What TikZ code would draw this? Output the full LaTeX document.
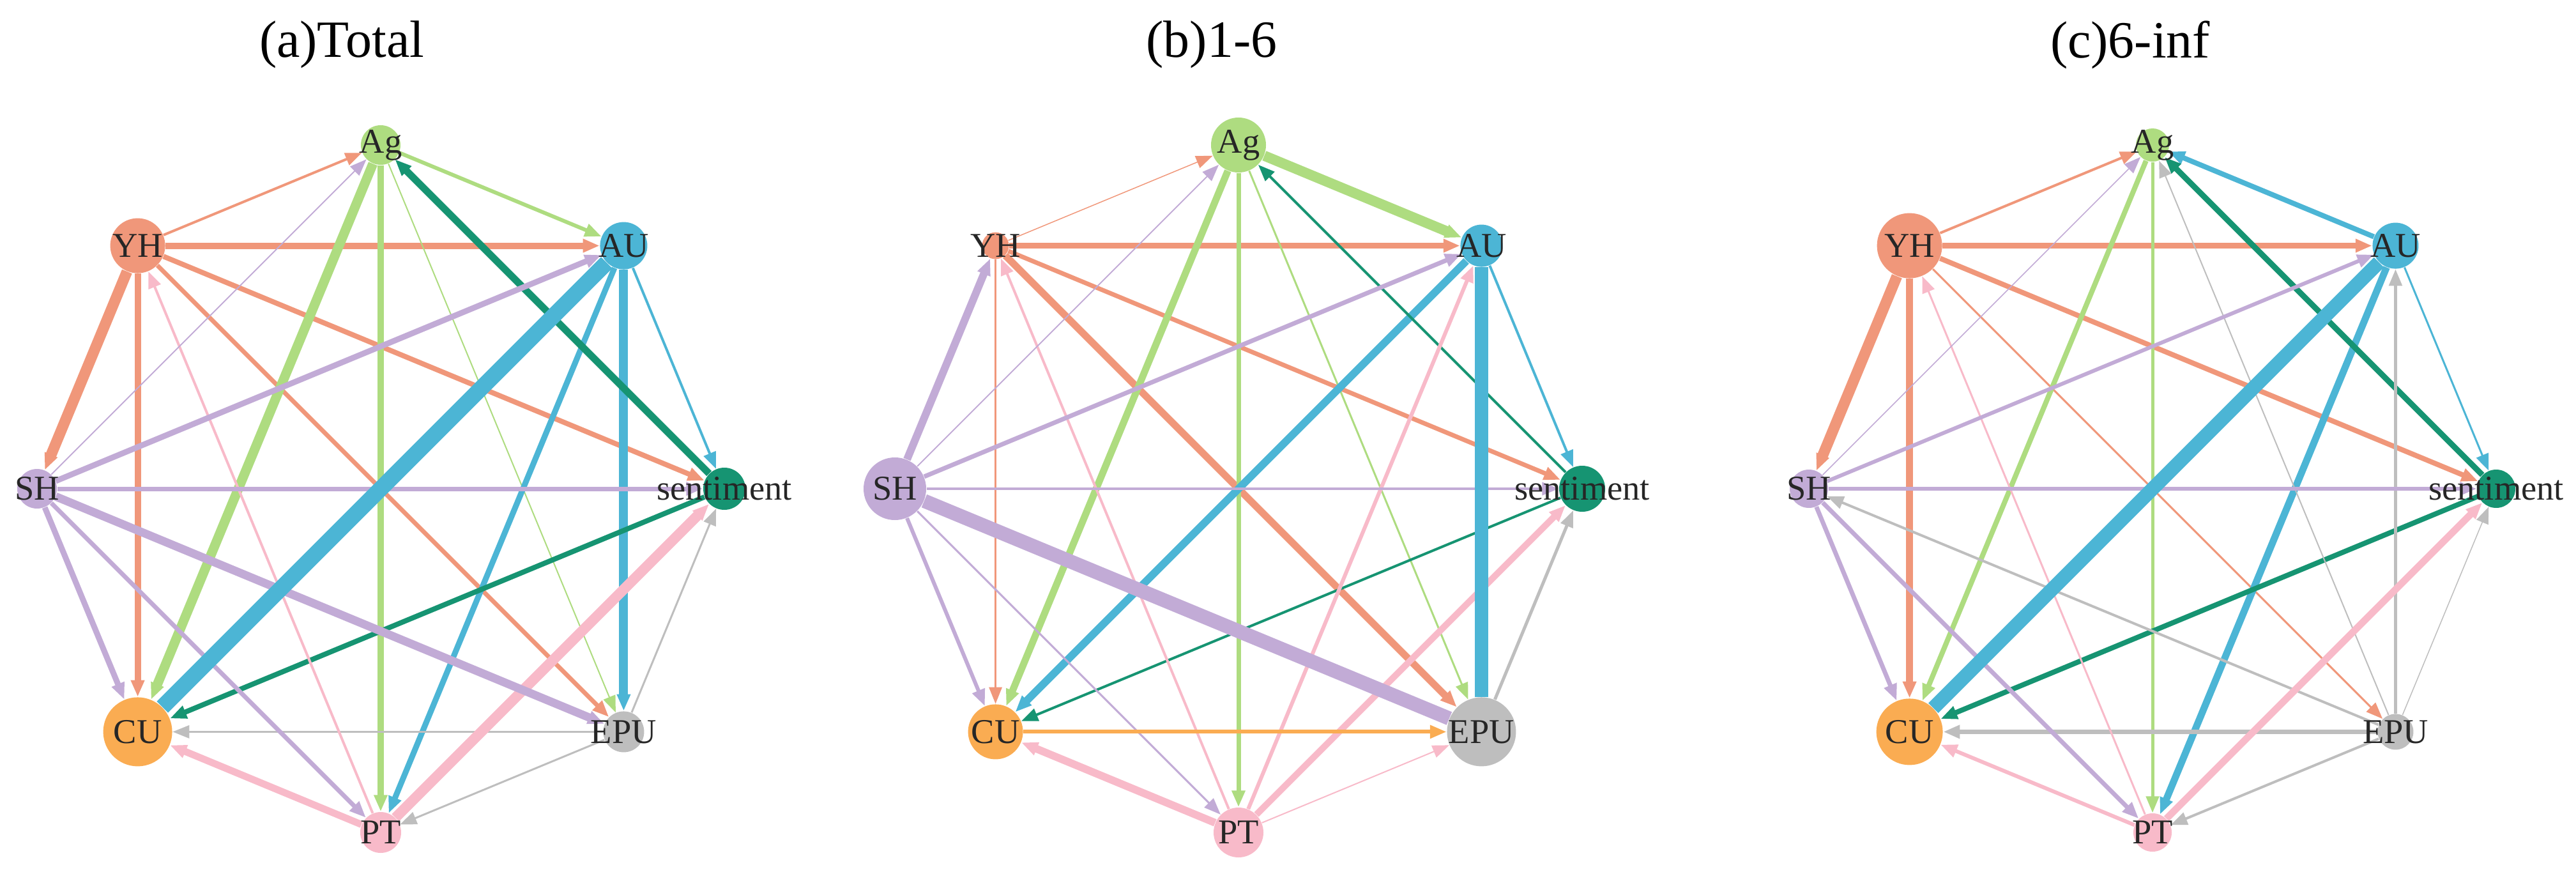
\documentclass[tikz,border=0pt]{standalone}
\usepackage{fontspec}
\setmainfont{Liberation Serif}
\usepackage{tikz}
\usetikzlibrary{arrows.meta, backgrounds}

\definecolor{cAg}{RGB}{174,220,128}
\definecolor{cAU}{RGB}{76,181,213}
\definecolor{cSen}{RGB}{22,148,114}
\definecolor{cEPU}{RGB}{190,190,190}
\definecolor{cPT}{RGB}{248,186,201}
\definecolor{cCU}{RGB}{250,172,82}
\definecolor{cSH}{RGB}{194,171,214}
\definecolor{cYH}{RGB}{240,151,122}

\begin{document}
\begin{tikzpicture}[
    vtx/.style={circle, inner sep=0pt, minimum size=#1},
    lbl/.style={font=\fontsize{15.5}{18}\selectfont, text=black!85},
    ttl/.style={font=\fontsize{23.3}{28}\selectfont},
    lnk/.style={-{Triangle[length=0.26cm, width=0.2cm]}},
    heavy/.style={-}
]
\useasboundingbox (0,0) rectangle (40.33,13.67);

% Titles
\node[ttl] (ta) at (5.35,12.97) {(a)Total};
\node[ttl] (tb) at (18.97,12.97) {(b)1-6};
\node[ttl] (tc) at (33.35,12.97) {(c)6-inf};

% (a) nodes
\begin{scope}[shift={(5.96,6.02)}]
\node[vtx=0.62cm, fill=cAg, label={[lbl, name=a-Ag-t]center:Ag}] (a-Ag) at (90:5.38) {};
\node[vtx=0.74cm, fill=cAU, label={[lbl, name=a-AU-t]center:AU}] (a-AU) at (45:5.38) {};
\node[vtx=0.66cm, fill=cSen, label={[lbl, name=a-sen-t]center:sentiment}] (a-sen) at (0:5.38) {};
\node[vtx=0.64cm, fill=cEPU, label={[lbl, name=a-EPU-t]center:EPU}] (a-EPU) at (-45:5.38) {};
\node[vtx=0.64cm, fill=cPT, label={[lbl, name=a-PT-t]center:PT}] (a-PT) at (-90:5.38) {};
\node[vtx=1.08cm, fill=cCU, label={[lbl, name=a-CU-t]center:CU}] (a-CU) at (-135:5.38) {};
\node[vtx=0.62cm, fill=cSH, label={[lbl, name=a-SH-t]center:SH}] (a-SH) at (180:5.38) {};
\node[vtx=0.86cm, fill=cYH, label={[lbl, name=a-YH-t]center:YH}] (a-YH) at (135:5.38) {};
\end{scope}

% (b) nodes
\begin{scope}[shift={(19.39,6.02)}]
\node[vtx=0.86cm, fill=cAg, label={[lbl, name=b-Ag-t]center:Ag}] (b-Ag) at (90:5.38) {};
\node[vtx=0.66cm, fill=cAU, label={[lbl, name=b-AU-t]center:AU}] (b-AU) at (45:5.38) {};
\node[vtx=0.72cm, fill=cSen, label={[lbl, name=b-sen-t]center:sentiment}] (b-sen) at (0:5.38) {};
\node[vtx=1.08cm, fill=cEPU, label={[lbl, name=b-EPU-t]center:EPU}] (b-EPU) at (-45:5.38) {};
\node[vtx=0.78cm, fill=cPT, label={[lbl, name=b-PT-t]center:PT}] (b-PT) at (-90:5.38) {};
\node[vtx=0.86cm, fill=cCU, label={[lbl, name=b-CU-t]center:CU}] (b-CU) at (-135:5.38) {};
\node[vtx=0.98cm, fill=cSH, label={[lbl, name=b-SH-t]center:SH}] (b-SH) at (180:5.38) {};
\node[vtx=0.42cm, fill=cYH, label={[lbl, name=b-YH-t]center:YH}] (b-YH) at (135:5.38) {};
\end{scope}

% (c) nodes
\begin{scope}[shift={(33.70,6.02)}]
\node[vtx=0.52cm, fill=cAg, label={[lbl, name=c-Ag-t]center:Ag}] (c-Ag) at (90:5.38) {};
\node[vtx=0.72cm, fill=cAU, label={[lbl, name=c-AU-t]center:AU}] (c-AU) at (45:5.38) {};
\node[vtx=0.60cm, fill=cSen, label={[lbl, name=c-sen-t]center:sentiment}] (c-sen) at (0:5.38) {};
\node[vtx=0.56cm, fill=cEPU, label={[lbl, name=c-EPU-t]center:EPU}] (c-EPU) at (-45:5.38) {};
\node[vtx=0.60cm, fill=cPT, label={[lbl, name=c-PT-t]center:PT}] (c-PT) at (-90:5.38) {};
\node[vtx=1.04cm, fill=cCU, label={[lbl, name=c-CU-t]center:CU}] (c-CU) at (-135:5.38) {};
\node[vtx=0.60cm, fill=cSH, label={[lbl, name=c-SH-t]center:SH}] (c-SH) at (180:5.38) {};
\node[vtx=1.02cm, fill=cYH, label={[lbl, name=c-YH-t]center:YH}] (c-YH) at (135:5.38) {};
\end{scope}

\begin{scope}[on background layer]
% (a) links: source/target/colour/width in px
\foreach \src/\dst/\col/\wd in {
    a-YH/a-Ag/cYH/4, a-YH/a-AU/cYH/10, a-YH/a-sen/cYH/8, a-YH/a-EPU/cYH/7,
    a-YH/a-CU/cYH/10, a-YH/a-SH/cYH/17,
    a-Ag/a-AU/cAg/6, a-Ag/a-CU/cAg/15, a-Ag/a-PT/cAg/10, a-Ag/a-EPU/cAg/2,
    a-AU/a-PT/cAU/9, a-AU/a-EPU/cAU/14, a-AU/a-sen/cAU/4,
    a-sen/a-Ag/cSen/11, a-sen/a-CU/cSen/8,
    a-EPU/a-CU/cEPU/3, a-EPU/a-PT/cEPU/3, a-EPU/a-sen/cEPU/3,
    a-PT/a-CU/cPT/11, a-PT/a-YH/cPT/4, a-PT/a-sen/cPT/16,
    a-SH/a-Ag/cSH/2, a-SH/a-AU/cSH/9, a-SH/a-sen/cSH/7, a-SH/a-EPU/cSH/13,
    a-SH/a-PT/cSH/7, a-SH/a-CU/cSH/9} {
    \draw[lnk, draw=\col, line width=\wd*0.01cm] (\src) -- (\dst);
}
\draw[heavy, draw=cAU, line width=0.25cm] (a-AU) -- (a-CU);

% (b) links
\foreach \src/\dst/\col/\wd in {
    b-YH/b-Ag/cYH/1.5, b-YH/b-AU/cYH/9, b-YH/b-sen/cYH/7, b-YH/b-EPU/cYH/11,
    b-YH/b-CU/cYH/3,
    b-Ag/b-AU/cAg/16, b-Ag/b-CU/cAg/11, b-Ag/b-PT/cAg/7, b-Ag/b-EPU/cAg/3,
    b-AU/b-CU/cAU/12, b-AU/b-sen/cAU/4,
    b-sen/b-Ag/cSen/4, b-sen/b-CU/cSen/4,
    b-EPU/b-sen/cEPU/5,
    b-PT/b-CU/cPT/12, b-PT/b-YH/cPT/4, b-PT/b-AU/cPT/6, b-PT/b-sen/cPT/10,
    b-PT/b-EPU/cPT/2,
    b-SH/b-YH/cSH/12, b-SH/b-Ag/cSH/2, b-SH/b-AU/cSH/7, b-SH/b-sen/cSH/4,
    b-SH/b-CU/cSH/6, b-SH/b-PT/cSH/3,
    b-CU/b-EPU/cCU/6} {
    \draw[lnk, draw=\col, line width=\wd*0.01cm] (\src) -- (\dst);
}
\draw[heavy, draw=cAU, line width=0.21cm] (b-AU) -- (b-EPU);
\draw[heavy, draw=cSH, line width=0.22cm] (b-SH) -- (b-EPU);

% (c) links
\foreach \src/\dst/\col/\wd in {
    c-YH/c-Ag/cYH/4, c-YH/c-AU/cYH/9, c-YH/c-sen/cYH/8, c-YH/c-EPU/cYH/3,
    c-YH/c-CU/cYH/11, c-YH/c-SH/cYH/17,
    c-Ag/c-CU/cAg/8, c-Ag/c-PT/cAg/5,
    c-AU/c-Ag/cAU/8, c-AU/c-PT/cAU/11, c-AU/c-sen/cAU/3,
    c-sen/c-Ag/cSen/9, c-sen/c-CU/cSen/8,
    c-EPU/c-AU/cEPU/5, c-EPU/c-Ag/cEPU/2, c-EPU/c-SH/cEPU/4, c-EPU/c-CU/cEPU/7,
    c-EPU/c-PT/cEPU/4, c-EPU/c-sen/cEPU/1.5,
    c-PT/c-CU/cPT/6, c-PT/c-YH/cPT/3, c-PT/c-sen/cPT/11,
    c-SH/c-Ag/cSH/1.5, c-SH/c-AU/cSH/6, c-SH/c-sen/cSH/6, c-SH/c-CU/cSH/7,
    c-SH/c-PT/cSH/7} {
    \draw[lnk, draw=\col, line width=\wd*0.01cm] (\src) -- (\dst);
}
\draw[heavy, draw=cAU, line width=0.22cm] (c-AU) -- (c-CU);
\end{scope}

\end{tikzpicture}
\end{document}
